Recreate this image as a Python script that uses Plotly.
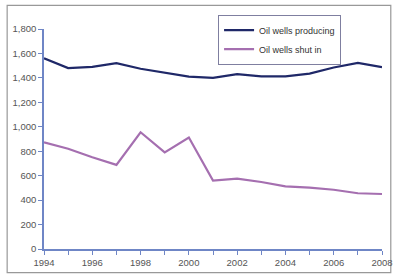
import plotly.graph_objects as go

years = list(range(1994, 2009))
producing = [1560, 1480, 1490, 1520, 1475, 1440, 1410, 1400, 1430, 1413, 1413, 1435, 1485, 1522, 1488]
shut_in = [872, 820, 750, 688, 955, 790, 912, 560, 575, 548, 512, 502, 485, 456, 450]

fig = go.Figure()
fig.add_trace(go.Scatter(x=years, y=producing, mode="lines", name="Oil wells producing",
                         line=dict(color="#1f2868", width=2.2)))
fig.add_trace(go.Scatter(x=years, y=shut_in, mode="lines", name="Oil wells shut in",
                         line=dict(color="#a56fb0", width=2.2)))

axis_color = "#6f86c6"
fig.update_layout(
    width=405, height=280,
    margin=dict(l=44, r=13, t=29, b=27),
    paper_bgcolor="white", plot_bgcolor="white",
    font=dict(family="Liberation Sans, Arial, sans-serif", size=9.5, color="#555"),
    xaxis=dict(range=[1994, 2008], tickmode="linear", tick0=1994, dtick=2,
               showgrid=False, zeroline=False, showline=True, linecolor=axis_color, linewidth=1.5,
               ticks="outside", ticklen=4, tickcolor=axis_color,
               minor=dict(dtick=1, tick0=1994, ticks="outside", ticklen=4, tickcolor=axis_color)),
    yaxis=dict(range=[0, 1800], tickmode="linear", tick0=0, dtick=200, tickformat=",",
               showgrid=False, zeroline=False, showline=True, linecolor=axis_color, linewidth=1.5,
               ticks="outside", ticklen=4, tickcolor=axis_color),
    legend=dict(x=0.515, y=1.065, xanchor="left", yanchor="top",
                bordercolor="#7f7fa0", borderwidth=1, bgcolor="white",
                font=dict(size=9, color="#333"), itemwidth=30, tracegroupgap=0),
    showlegend=True,
    shapes=[dict(type="rect", xref="paper", yref="paper",
                 x0=-0.109, x1=1.026, y0=-0.107, y1=1.107,
                 line=dict(color="#999", width=1.2), layer="below")],
)

fig.write_html("out.html", config={"displayModeBar": False},
               post_script="document.body.style.margin='0';document.body.style.padding='0';")
